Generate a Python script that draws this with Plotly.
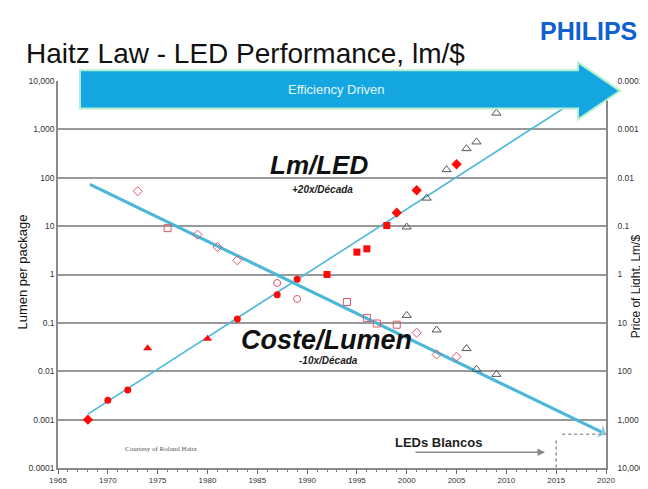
import plotly.graph_objects as go
import numpy as np

# ---------------- data ----------------
# Lumen per package (left axis)
led_diamond_years = [1968, 1999, 2001, 2005]
led_diamond_vals = [0.001, 19, 55, 190]
led_circle_years = [1970, 1972, 1983, 1987, 1989]
led_circle_vals = [0.0025, 0.0041, 0.12, 0.38, 0.8]
led_triangle_years = [1974, 1980]
led_triangle_vals = [0.03, 0.047]
led_square_years = [1992, 1995, 1996, 1998]
led_square_vals = [1.0, 2.9, 3.4, 10.3]
white_led_years = [2000, 2002, 2004, 2006, 2007, 2009]
white_led_vals = [9.6, 38, 147, 400, 550, 2170]

# Price of light (right axis)
cost_diamond_years = [1973, 1979, 1981, 1983, 2001, 2003, 2005]
cost_diamond_vals = [0.019, 0.15, 0.27, 0.51, 16, 45, 50]
cost_square_years = [1976, 1994, 1996, 1997, 1999]
cost_square_vals = [0.11, 3.7, 7.9, 10.3, 10.9]
cost_circle_years = [1987, 1989]
cost_circle_vals = [1.5, 3.2]
cost_white_years = [2000, 2003, 2006, 2007, 2009]
cost_white_vals = [7.0, 14, 34, 91, 116]

# trend lines
led_fit_years = [1968, 2020]
led_fit_vals = [0.0013, 10000]
cost_fit_years = [1968.2, 2020]
cost_fit_vals = [0.0137, 2000]

# reference lines
target_years = [2015.6, 2020]
target_vals = [2000, 2000]
white_start_years = [2015, 2015]
white_start_vals = [0.00037, 0.0001]

x_tick_vals = [1965, 1970, 1975, 1980, 1985, 1990, 1995, 2000, 2005, 2010, 2015, 2020]
y_tick_vals = [0.0001, 0.001, 0.01, 0.1, 1, 10, 100, 1000, 10000]
y_tick_text = ["0.0001", "0.001", "0.01", "0.1", "1", "10", "100", "1,000", "10,000"]

# ---------------- styling ----------------
W, H = 648, 489
ML, MR, MT, MB = 50, 50, 73, 22
PW, PH = W - ML - MR, H - MT - MB
RED = "#ff0a0a"
OPEN_RED = "#e0566a"
TRI = "#555555"
BLUE = "#4cb8d8"
GRID = "#999999"
FONT = "Liberation Sans, Arial, sans-serif"


def px(x):
    return (x - ML) / PW


def py(y):
    return (H - MB - y) / PH


fig = go.Figure()

# trend lines
fig.add_trace(go.Scatter(x=led_fit_years, y=led_fit_vals, mode="lines",
                         line=dict(color=BLUE, width=1.6), yaxis="y", hoverinfo="skip"))
fig.add_trace(go.Scatter(x=cost_fit_years, y=cost_fit_vals, mode="lines+markers",
                         line=dict(color=BLUE, width=3.2), yaxis="y2",
                         marker=dict(symbol=["circle", "arrow-wide"], size=[0, 13],
                                     color=BLUE, angleref="previous",
                                     line=dict(width=0)),
                         hoverinfo="skip"))
fig.add_trace(go.Scatter(x=target_years, y=target_vals, mode="lines",
                         line=dict(color="#9a9a9a", width=1.5, dash="dot"), yaxis="y2"))
fig.add_trace(go.Scatter(x=white_start_years, y=white_start_vals, mode="lines",
                         line=dict(color="#777777", width=1.2, dash="dot"), yaxis="y"))

# lumen per package markers
fig.add_trace(go.Scatter(x=led_diamond_years, y=led_diamond_vals, mode="markers",
                         marker=dict(symbol="diamond", size=8, color=RED)))
fig.add_trace(go.Scatter(x=led_circle_years, y=led_circle_vals, mode="markers",
                         marker=dict(symbol="circle", size=7, color=RED)))
fig.add_trace(go.Scatter(x=led_triangle_years, y=led_triangle_vals, mode="markers",
                         marker=dict(symbol="triangle-up", size=8, color=RED)))
fig.add_trace(go.Scatter(x=led_square_years, y=led_square_vals, mode="markers",
                         marker=dict(symbol="square", size=7, color=RED)))
fig.add_trace(go.Scatter(x=white_led_years, y=white_led_vals, mode="markers",
                         marker=dict(symbol="triangle-up-open", size=8, color=TRI,
                                     line=dict(width=1))))

# price of light markers (right axis)
fig.add_trace(go.Scatter(x=cost_diamond_years, y=cost_diamond_vals, mode="markers", yaxis="y2",
                         marker=dict(symbol="diamond-open", size=7, color=OPEN_RED,
                                     line=dict(width=1))))
fig.add_trace(go.Scatter(x=cost_square_years, y=cost_square_vals, mode="markers", yaxis="y2",
                         marker=dict(symbol="square-open", size=7, color=OPEN_RED,
                                     line=dict(width=1))))
fig.add_trace(go.Scatter(x=cost_circle_years, y=cost_circle_vals, mode="markers", yaxis="y2",
                         marker=dict(symbol="circle-open", size=7, color=OPEN_RED,
                                     line=dict(width=1))))
fig.add_trace(go.Scatter(x=cost_white_years, y=cost_white_vals, mode="markers", yaxis="y2",
                         marker=dict(symbol="triangle-up-open", size=8, color=TRI,
                                     line=dict(width=1))))

# "Efficiency Driven" arrow
arrow_pts = [(72, 62), (570, 62), (570, 54), (612, 83), (570, 112), (570, 101), (72, 101)]
path = "M " + " L ".join(f"{px(a):.4f},{py(b):.4f}" for a, b in arrow_pts) + " Z"

fig.update_layout(
    width=W, height=H,
    margin=dict(l=ML, r=MR, t=MT, b=MB),
    paper_bgcolor="white", plot_bgcolor="white",
    showlegend=False,
    font=dict(family=FONT, color="#222222"),
    xaxis=dict(range=[1965, 2020], tickvals=x_tick_vals, showgrid=False, zeroline=False,
               showline=True, linecolor="#8a8a8a", linewidth=1.5,
               ticks="outside", ticklen=4, tickcolor="#666666",
               minor=dict(ticks="outside", ticklen=2, dtick=1, tickcolor="#777777"),
               tickfont=dict(size=8, color="#333333")),
    yaxis=dict(type="log", range=[-4, 4], tickvals=y_tick_vals, ticktext=y_tick_text,
               showgrid=True, gridcolor=GRID, gridwidth=2, zeroline=False,
               showline=True, linecolor="#8a8a8a", linewidth=1.5,
               ticks="", tickfont=dict(size=8.5, color="#333333")),
    yaxis2=dict(type="log", range=[4, -4], tickvals=y_tick_vals, ticktext=y_tick_text,
                overlaying="y", side="right", showgrid=False, zeroline=False,
                showline=True, linecolor="#8a8a8a", linewidth=1.5,
                ticks="", ticklabelstandoff=8, tickfont=dict(size=8.5, color="#333333")),
    shapes=[dict(type="path", path=path, xref="paper", yref="paper",
                 fillcolor="#13a6e0", line=dict(color="#b4f0d0", width=2), layer="above")],
)

annotations = [
    dict(text="Haitz Law - LED Performance, lm/$", x=px(16), y=py(45), xanchor="left",
         yanchor="middle", font=dict(size=28, color="#111111")),
    dict(text="<b>PHILIPS</b>", x=px(580), y=py(22), xanchor="center", yanchor="middle",
         font=dict(size=25, color="#1060d0", family="Liberation Sans, Arial")),
    dict(text="Efficiency Driven", x=px(328), y=py(82), xanchor="center", yanchor="middle",
         font=dict(size=13, color="#e6f6ff")),
    dict(text="<b><i>Lm/LED</i></b>", x=px(311), y=py(159), xanchor="center",
         yanchor="middle", font=dict(size=26, color="#111111")),
    dict(text="<b><i>+20x/Década</i></b>", x=px(314), y=py(183), xanchor="center",
         yanchor="middle", font=dict(size=10, color="#222222")),
    dict(text="<b><i>Coste/Lumen</i></b>", x=px(318), y=py(337), xanchor="center",
         yanchor="middle", font=dict(size=27, color="#111111")),
    dict(text="<b><i>-10x/Década</i></b>", x=px(320), y=py(358), xanchor="center",
         yanchor="middle", font=dict(size=10, color="#222222")),
    dict(text="Lumen per package", x=px(15), y=py(268), xanchor="center", yanchor="middle",
         textangle=-90, font=dict(size=13, color="#111111")),
    dict(text="Price of Light, Lm/$", x=px(628), y=py(282), xanchor="center",
         yanchor="middle", textangle=-90, font=dict(size=12, color="#111111")),
    dict(text="Courtesy of Roland Haitz", x=px(153), y=py(448), xanchor="center",
         yanchor="middle", font=dict(size=7, color="#555555",
                                     family="Liberation Serif, Times New Roman, serif")),
    dict(text="<b>LEDs Blancos</b>", x=px(430), y=py(441), xanchor="center",
         yanchor="middle", font=dict(size=13, color="#222222")),
    dict(text="", x=px(537), y=py(451), ax=-131, ay=0, showarrow=True, arrowhead=2,
         arrowsize=1, arrowwidth=1.5, arrowcolor="#8a8a8a"),
]
for a in annotations:
    a.setdefault("xref", "paper")
    a.setdefault("yref", "paper")
    a.setdefault("showarrow", False)
fig.update_layout(annotations=annotations)

fig.write_html("out.html")
